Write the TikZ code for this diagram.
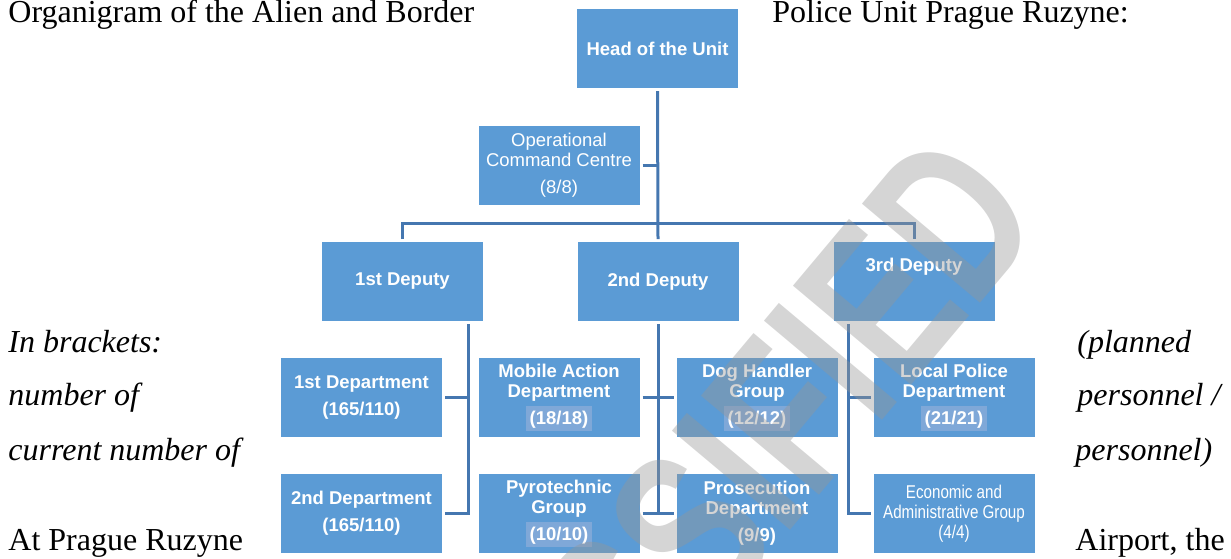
\documentclass[tikz,border=0pt]{standalone}
\usepackage{fontspec}
\setmainfont{Liberation Serif}
\setsansfont{Liberation Sans}
\newfontfamily\narrowsf[FakeStretch=0.82]{Liberation Sans}
\newfontfamily\wmfont[FakeStretch=0.72]{Liberation Sans}
\usepackage{tikz}
\definecolor{boxblue}{RGB}{91,155,213}
\definecolor{lineblue}{RGB}{69,119,176}
\definecolor{hlblue}{RGB}{127,168,216}
\definecolor{wmgray}{RGB}{150,150,150}
\newcommand{\hlcount}[1]{{\setlength{\fboxsep}{0pt}\colorbox{hlblue}{\hspace{1.75pt}\vrule height 8.9pt depth 3.6pt width 0pt#1\hspace{1.75pt}}}}
\newcommand{\unitsize}{\fontsize{9.25}{10}\selectfont\setlength{\lineskiplimit}{-10pt}}

\begin{document}
\begin{tikzpicture}[x=0.5pt,y=-0.5pt,
    unit/.style={rectangle, fill=boxblue, text=white, minimum width=80.5pt, minimum height=39.5pt,
        inner sep=0pt, outer sep=1.5pt, align=center, font={\sffamily\bfseries\unitsize}},
    plainunit/.style={unit, font={\sffamily\unitsize}},
    narrowunit/.style={unit, font={\narrowsf\unitsize}},
    link/.style={draw=lineblue, line width=1.5pt},
    prose/.style={anchor=base west, inner sep=0pt, font={\fontsize{16}{19}\selectfont}},
    watermark/.style={text=wmgray, opacity=0.4, inner sep=0pt, font={\wmfont\bfseries\fontsize{112}{112}\selectfont}}]
    \useasboundingbox (0,0) rectangle (1231,558);

        \node[prose] (t1) at (8,22) {Organigram of the Alien and Border};
        \node[prose] (t2) at (772,22) {Police Unit Prague Ruzyne:};
        \node[prose] (l1) at (8,352) {\itshape In brackets:};
        \node[prose] (l2) at (8,405) {\itshape number of};
        \node[prose] (l3) at (8,460) {\itshape current number of};
        \node[prose] (l4) at (8,550) {At Prague Ruzyne};
        \node[prose] (r1) at (1077,352) {\itshape (planned};
        \node[prose] (r2) at (1077,405) {\itshape personnel /};
        \node[prose] (r3) at (1075,460) {\itshape personnel)};
        \node[prose] (r4) at (1075,550) {Airport, the};

        \node[unit] (head) at (657.5,48.5) {Head of the Unit};
        \node[plainunit] (occ) at (559,165) {Operational\\Command Centre\\[3.5pt](8/8)};
        \node[unit] (dep1) at (402.5,281.5) {1st Deputy};
        \node[unit] (dep2) at (658,281.5) {2nd Deputy};
        \node[unit] (dep3) at (914,281.5) {3rd Deputy\\[3.5pt]\strut};
        \node[unit] (dept1) at (361.5,397.5) {1st Department\\[3.5pt](165/110)};
        \node[unit] (dept2) at (361.5,513.5) {2nd Department\\[3.5pt](165/110)};
        \node[unit] (mad) at (559,397.5) {Mobile Action\\Department\\[3.5pt]\hlcount{(18/18)}};
        \node[unit] (pyro) at (559,513.5) {Pyrotechnic\\Group\\[3.5pt]\hlcount{(10/10)}};
        \node[unit] (dog) at (757,397.5) {Dog Handler\\Group\\[3.5pt]\hlcount{(12/12)}};
        \node[unit] (pros) at (757,513.5) {Prosecution\\Department\\[3.5pt](9/9)};
        \node[unit] (lpd) at (954,397.5) {Local Police\\Department\\[3.5pt]\hlcount{(21/21)}};
        \node[narrowunit] (eag) at (954,513.5) {Economic and\\Administrative Group\\(4/4)};

        \coordinate (bus) at (658,223);
        \coordinate (sp1) at (468,0);
        \coordinate (sp3) at (848,0);

        \draw[link] (head.south) -- (dep2.north);
        \draw[link] (occ.east) -- (occ.east -| head.south);
        \draw[link] (dep1.north) |- (bus) -| (dep3.north);
        \draw[link] (dep1.south -| sp1) |- (dept2.east);
        \draw[link] (dept1.east) -- (dept1.east -| sp1);
        \draw[link] (dep2.south) -- (dep2.south |- pyro.east);
        \draw[link] (mad.east) -- (dog.west);
        \draw[link] (pyro.east) -- (pros.west);
        \draw[link] (dep3.south -| sp3) |- (eag.west);
        \draw[link] (sp3 |- lpd.west) -- (lpd.west);

        \begin{scope}
        \clip (0,0) rectangle (1231,558);
        \node[watermark, anchor=base east, rotate=50] (wm) at (1049,222) {CLASSIFIED};
        \end{scope}
\end{tikzpicture}
\end{document}
